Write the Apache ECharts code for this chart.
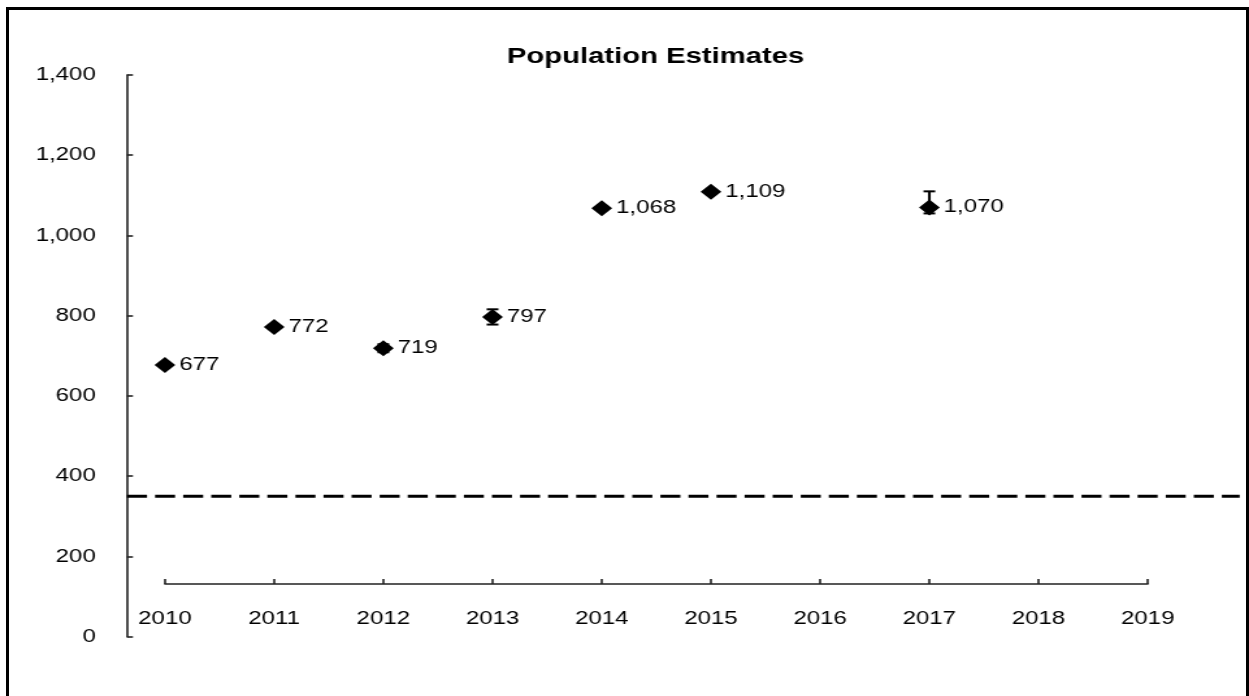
<!DOCTYPE html>
<html>
<head>
<meta charset="utf-8">
<script src="https://cdn.jsdelivr.net/npm/echarts@6/dist/echarts.min.js"></script>
<style>
  html, body { margin: 0; padding: 0; background: #fff; overflow: hidden; }
  #frame { position: absolute; left: 6px; top: 7px; width: 1243px; height: 720px;
           box-sizing: border-box; border: 3px solid #000; border-bottom: none; pointer-events: none; z-index: 2; }
  #chart { position: absolute; left: 0; top: 0; width: 961px; height: 696px;
           transform: scaleX(1.2997); transform-origin: 0 0; }
</style>
</head>
<body>
<div id="chart"></div>
<div id="frame"></div>
<script>
// ---- data ----
const years = ['2010', '2011', '2012', '2013', '2014', '2015', '2016', '2017', '2018', '2019'];
const estimates = [677, 772, 719, 797, 1068, 1109, null, 1070, null, null];
const errLow  = [null, null, 709, 778, null, null, null, 1055, null, null];
const errHigh = [null, null, 729, 816, null, null, null, 1110, null, null];
const yTicks = [0, 200, 400, 600, 800, 1000, 1200, 1400];
const threshold = 350;
const titleText = 'Population Estimates';

// ---- layout (unscaled coordinates) ----
const FONT = "'Liberation Sans', Arial, sans-serif";
const gridLeft = 126.9, gridRight = 77.9, gridTop = 75, gridBottom = 59.3;
const axisColor = '#222';

const scatterData = estimates.map((v, i) => v == null ? null : [i, v]).filter(d => d);
const errData = errLow.map((v, i) => v == null ? null : [i, v, errHigh[i]]).filter(d => d);

const chart = echarts.init(document.getElementById('chart'), null, { renderer: 'canvas' });
chart.setOption({
  animation: false,
  backgroundColor: '#fff',
  title: {
    text: titleText, left: 390, top: 45, padding: 0,
    textStyle: { fontFamily: FONT, fontSize: 22.5, fontWeight: 'bold', color: '#000' }
  },
  grid: [
    { left: gridLeft, right: gridRight, top: gridTop, bottom: gridBottom },
    { left: gridLeft, right: gridRight, top: 560, bottom: 112 },
    { left: 97.7, right: 7.2, top: gridTop, bottom: gridBottom }
  ],
  xAxis: [
    { gridIndex: 0, type: 'category', data: years, boundaryGap: false, show: false },
    {
      gridIndex: 1, type: 'category', data: years, boundaryGap: false,
      axisLine: { show: true, lineStyle: { color: axisColor, width: 1.6 } },
      axisTick: { show: true, inside: true, length: 5, lineStyle: { color: axisColor, width: 1.6 } },
      axisLabel: { margin: 25, fontFamily: FONT, fontSize: 18.5, color: '#000', interval: 0 },
      splitLine: { show: false }
    },
    { gridIndex: 2, type: 'value', min: 0, max: 1, show: false }
  ],
  yAxis: [
    {
      gridIndex: 0, type: 'value', min: yTicks[0], max: yTicks[yTicks.length - 1], interval: 200,
      offset: gridLeft - 97.7,
      axisLine: { show: true, lineStyle: { color: axisColor, width: 1.6 } },
      axisTick: { show: true, inside: true, length: 4.6, lineStyle: { color: axisColor, width: 1.6 } },
      axisLabel: { margin: 24, fontFamily: FONT, fontSize: 18.5, color: '#000',
                   formatter: v => v.toLocaleString('en-US') },
      splitLine: { show: false }
    },
    { gridIndex: 1, type: 'value', show: false },
    { gridIndex: 2, type: 'value', min: yTicks[0], max: yTicks[yTicks.length - 1], show: false }
  ],
  series: [
    {
      type: 'line', xAxisIndex: 2, yAxisIndex: 2,
      data: [[0, threshold], [1, threshold]],
      symbol: 'none', silent: true,
      lineStyle: { color: '#000', width: 3, type: [15.4, 6.2] }
    },
    {
      type: 'custom', xAxisIndex: 0, yAxisIndex: 0, data: errData, z: 3,
      renderItem: function (params, api) {
        const x = api.value(0);
        const lo = api.coord([x, api.value(1)]);
        const hi = api.coord([x, api.value(2)]);
        const cw = 4.5;
        const st = { stroke: '#000', lineWidth: 2 };
        return {
          type: 'group',
          children: [
            { type: 'line', shape: { x1: lo[0], y1: lo[1], x2: hi[0], y2: hi[1] }, style: st },
            { type: 'line', shape: { x1: lo[0] - cw, y1: lo[1], x2: lo[0] + cw, y2: lo[1] }, style: st },
            { type: 'line', shape: { x1: hi[0] - cw, y1: hi[1], x2: hi[0] + cw, y2: hi[1] }, style: st }
          ]
        };
      }
    },
    {
      type: 'scatter', xAxisIndex: 0, yAxisIndex: 0, data: scatterData, z: 4,
      symbol: 'diamond', symbolSize: 16,
      itemStyle: { color: '#000', opacity: 1 },
      label: {
        show: true, position: 'right', distance: 3,
        fontFamily: FONT, fontSize: 18.5, color: '#000',
        formatter: p => p.value[1].toLocaleString('en-US')
      }
    }
  ]
});
</script>
</body>
</html>
